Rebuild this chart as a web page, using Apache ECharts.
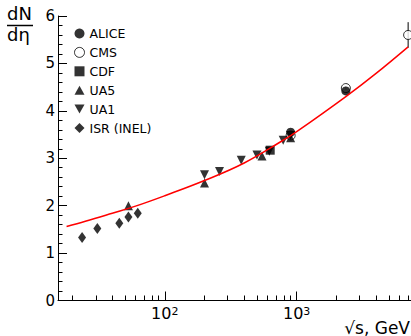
<!DOCTYPE html>
<html><head><meta charset="utf-8">
<script src="https://cdn.jsdelivr.net/npm/echarts@6/dist/echarts.min.js"></script>
<style>html,body{margin:0;padding:0;background:#fff}#c{width:411px;height:336px}</style>
</head><body><div id="c"></div>
<script>
// ---- data ----
const xMajorTicks = [100, 1000];
const xMinorTicks = [20,30,40,50,60,70,80,90,200,300,400,500,600,700,800,900,2000,3000,4000,5000,6000,7000];
const legendNames = ['ALICE','CMS','CDF','UA5','UA1','ISR (INEL)'];
const aliceData = [[900,3.55],[2360,4.42]];
const cmsData = [[900,3.48],[2360,4.48],[7000,5.60]];
const cmsErr = [0.02,0.04,0.27];
const cdfData = [[630,3.17]];
const ua5Data = [[53,2.00],[200,2.48],[546,3.05],[900,3.43]];
const ua1Data = [[200,2.65],[260,2.72],[380,2.96],[500,3.07],[620,3.15],[790,3.38],[900,3.48]];
const isrData = [[23.6,1.33],[30.8,1.52],[45.2,1.63],[53,1.76],[62.4,1.84]];
const fitCurve = [[18,1.56],[25,1.67],[40,1.84],[60,1.99],[100,2.21],[200,2.53],[400,2.90],[790,3.38],[1000,3.56],[2360,4.30],[4000,4.79],[7000,5.35]];

const FONT = 'DejaVu Sans';
const chart = echarts.init(document.getElementById('c'), null, {renderer:'svg'});
const errData = cmsData.map((p,i)=>[p[0], p[1]-cmsErr[i], p[1]+cmsErr[i]]);
const legendItems = {
  'UA1':{icon:'path://M0,0 L10,0 L5,9 Z', itemStyle:{color:'#000'}},
  'UA5':{icon:'path://M5,0 L10,9 L0,9 Z', itemStyle:{color:'#000'}},
  'CMS':{icon:'circle', itemStyle:{color:'#fff', borderColor:'#000', borderWidth:1}}
};

chart.setOption({
  animation:false,
  backgroundColor:'#fff',
  grid:{left:58, right:0, top:16, bottom:35.5},
  legend:{
    orient:'vertical', left:74, top:27, padding:0, itemWidth:10, itemHeight:10, itemGap:5.9,
    selectedMode:false,
    data:legendNames.map(n=>Object.assign({name:n}, legendItems[n]||{})),
    textStyle:{fontFamily:FONT, fontSize:12.5, color:'#000'}
  },
  xAxis:[{
    type:'log', logBase:10, min:15.5, max:7360,
    axisLine:{lineStyle:{color:'#000', width:1}},
    axisTick:{inside:true, length:9, customValues:xMajorTicks, lineStyle:{color:'#000'}},
    axisLabel:{customValues:xMajorTicks, margin:5,
      formatter:v=>'{b|10}{s|'+Math.round(Math.log10(v))+'}',
      rich:{b:{fontFamily:FONT, fontSize:16, color:'#000'}, s:{fontFamily:FONT, fontSize:11, color:'#000', verticalAlign:'top'}}},
    splitLine:{show:false}
  },{
    type:'log', logBase:10, min:15.5, max:7360, position:'bottom',
    axisLine:{show:false},
    axisTick:{inside:true, length:5, customValues:xMinorTicks, lineStyle:{color:'#000'}},
    axisLabel:{show:false}, splitLine:{show:false}
  }],
  yAxis:{
    type:'value', min:0, max:6, interval:1,
    axisLine:{show:true, lineStyle:{color:'#000', width:1}},
    axisTick:{inside:true, length:9, lineStyle:{color:'#000'}},
    minorTick:{show:true, splitNumber:5, length:4.5, lineStyle:{color:'#000'}},
    axisLabel:{fontFamily:FONT, fontSize:15, color:'#000', margin:3},
    splitLine:{show:false}
  },
  graphic:[
    {type:'text', left:7, top:4, style:{text:'dN', fontFamily:FONT, fontSize:18, fill:'#000'}},
    {type:'line', shape:{x1:7, y1:25.5, x2:33, y2:25.5}, style:{stroke:'#000', lineWidth:1.5}},
    {type:'text', left:7, top:25, style:{text:'dη', fontFamily:FONT, fontSize:18, fill:'#000'}},
    {type:'text', right:1, bottom:0, style:{text:'√s, GeV', fontFamily:FONT, fontSize:17, fill:'#000'}}
  ],
  series:[
    {name:'CMS', type:'scatter', data:cmsData, symbol:'circle', symbolSize:9, z:3,
      itemStyle:{color:'#fff', borderColor:'#000', borderWidth:1}},
    {name:'CMSerr', type:'custom', data:errData, z:2,
      renderItem:(params, api)=>{
        const top = api.coord([api.value(0), api.value(2)]);
        const bot = api.coord([api.value(0), api.value(1)]);
        return {type:'line', shape:{x1:top[0], y1:top[1], x2:bot[0], y2:bot[1]}, style:{stroke:'#000', lineWidth:1}};
      }},
    {name:'ALICE', type:'scatter', data:aliceData, symbol:'circle', symbolSize:9, z:4, itemStyle:{color:'#000'}},
    {name:'CDF', type:'scatter', data:cdfData, symbol:'rect', symbolSize:9, z:4, itemStyle:{color:'#000'}},
    {name:'UA5', type:'scatter', data:ua5Data, symbol:'triangle', symbolSize:9, z:4, itemStyle:{color:'#000'}},
    {name:'UA1', type:'scatter', data:ua1Data, symbol:'triangle', symbolRotate:180, symbolSize:9, z:4, itemStyle:{color:'#000'}},
    {name:'ISR (INEL)', type:'scatter', data:isrData, symbol:'diamond', symbolSize:[8,11], z:4, itemStyle:{color:'#000'}},
    {name:'fit', type:'line', data:fitCurve, smooth:0.4, showSymbol:false, z:6,
      lineStyle:{color:'#ff0000', width:1.5}}
  ]
});
</script></body></html>
